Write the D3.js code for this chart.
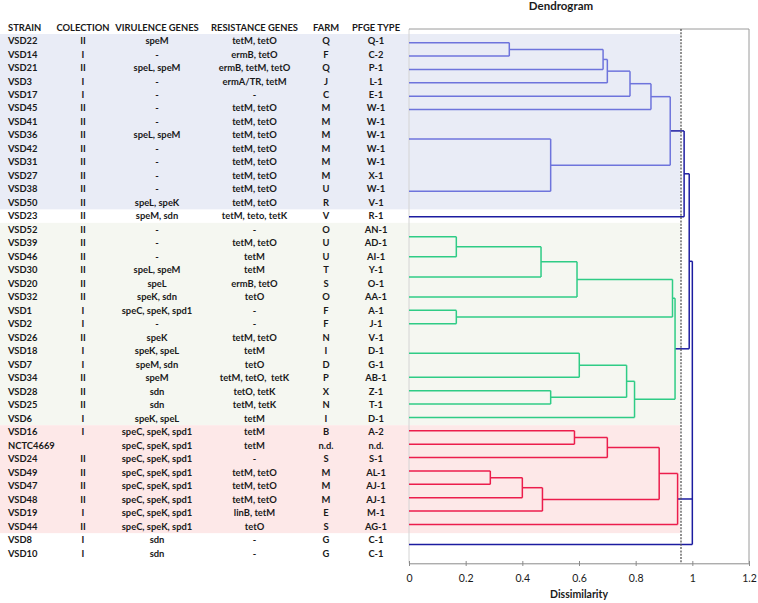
<!DOCTYPE html>
<html>
<head>
<meta charset="utf-8">
<script src="https://cdn.jsdelivr.net/npm/d3@7"></script>
<style>
  body { margin: 0; background: #fff; }
  svg text { font-family: Lato, "Open Sans", sans-serif; fill: #1a1a1a; white-space: pre; }
  .hdr { font-weight: 700; font-size: 9.4px; }
  .cell { font-weight: 700; font-size: 9.4px; }
  .title { font-weight: 700; font-size: 11.5px; }
  .tick text { font-size: 10.5px; font-weight: 400; }
</style>
</head>
<body>
<div class="chart"></div>
<script>
// table data
const columns = ['STRAIN', 'COLECTION', 'VIRULENCE GENES', 'RESISTANCE GENES', 'FARM', 'PFGE TYPE'];
const strains = ['VSD22','VSD14','VSD21','VSD3','VSD17','VSD45','VSD41','VSD36','VSD42','VSD31','VSD27','VSD38','VSD50',
  'VSD23','VSD52','VSD39','VSD46','VSD30','VSD20','VSD32','VSD1','VSD2','VSD26','VSD18','VSD7','VSD34','VSD28','VSD25','VSD6',
  'VSD16','NCTC4669','VSD24','VSD49','VSD47','VSD48','VSD19','VSD44','VSD8','VSD10'];
const collections = ['II','I','II','I','I','II','II','II','II','II','II','II','II',
  'II','II','II','II','II','II','II','I','I','II','I','I','II','II','II','I',
  'I','','II','II','II','II','I','II','I','I'];
const virulence = ['speM','-','speL, speM','-','-','-','-','speL, speM','-','-','-','-','speL, speK',
  'speM, sdn','-','-','-','speL, speM','speL','speK, sdn','speC, speK, spd1','-','speK','speK, speL','speM, sdn','speM','sdn','sdn','speK, speL',
  'speC, speK, spd1','speC, speK, spd1','speC, speK, spd1','speC, speK, spd1','speC, speK, spd1','speC, speK, spd1','speC, speK, spd1','speC, speK, spd1','sdn','sdn'];
const resistance = ['tetM, tetO','ermB, tetO','ermB, tetM, tetO','ermA/TR, tetM','-','tetM, tetO','tetM, tetO','tetM, tetO','tetM, tetO','tetM, tetO','tetM, tetO','tetM, tetO','tetM, tetO',
  'tetM, teto, tetK','-','tetM, tetO','tetM','tetM','ermB, tetO','tetO','-','-','tetM, tetO','tetM','tetO','tetM, tetO,  tetK','tetO, tetK','tetM, tetK','tetM',
  'tetM','tetM','-','tetM, tetO','tetM, tetO','tetM, tetO','linB, tetM','tetO','-','-'];
const farms = ['Q','F','Q','J','C','M','M','M','M','M','M','U','R',
  'V','O','U','U','T','S','O','F','F','N','I','D','P','X','N','I',
  'B','n.d.','S','M','M','M','E','S','G','G'];
const pfge = ['Q-1','C-2','P-1','L-1','E-1','W-1','W-1','W-1','W-1','W-1','X-1','W-1','V-1',
  'R-1','AN-1','AD-1','AI-1','Y-1','O-1','AA-1','A-1','J-1','V-1','D-1','G-1','AB-1','Z-1','T-1','D-1',
  'A-2','n.d.','S-1','AL-1','AJ-1','AJ-1','M-1','AG-1','C-1','C-1'];

// cluster bands (first and last strain of each)
const bandFirst = ['VSD22', 'VSD52', 'VSD16'];
const bandLast = ['VSD50', 'VSD6', 'VSD44'];

// dendrogram: leaf order positions, leaf groups, merges (children ids) and heights
const leafPos = [0, 1, 2, 3, 4, 5, 7.2, 11.1, 13,
  14.5, 16, 17.5, 19, 20, 21, 23.2, 25, 26, 27, 28,
  29, 30, 31, 32, 33, 34, 35, 36, 37.5];
const leafGroup = [0,0,0,0,0,0,0,0,3, 1,1,1,1,1,1,1,1,1,1,1, 2,2,2,2,2,2,2,2,3];
// node ids: leaves 0..28, merges from 29 on
const mergeChildren = [
  [0,1],[29,2],[30,3],[31,4],[32,5],[6,7],[33,34],[35,8],
  [9,10],[37,11],[38,12],[13,14],[39,40],[15,16],[17,18],[42,43],[44,19],[41,45],[36,46],
  [20,21],[48,22],[23,24],[50,25],[51,26],[49,52],[53,27],
  [47,54,28]
];
const mergeHeight = [0.354,0.685,0.70,0.78,0.854,0.50,0.922,0.971,
  0.167,0.466,0.593,0.167,0.930,0.601,0.50,0.768,0.796,0.939,0.989,
  0.584,0.70,0.287,0.40,0.471,0.883,0.948,
  1.0];
const cutoff = 0.96;
const xTicks = [0, 0.2, 0.4, 0.6, 0.8, 1, 1.2];

const W = 758, H = 603;
const svg = d3.select('.chart').append('svg')
  .attr('width', W).attr('height', H);

const groupColor = ['#6e74dc', '#2fcc86', '#ec1d4c'];
const bandColor = ['#e9ecf6', '#f5f7f1', '#fde8e8'];
const navy = '#1c1ca0';

// scales
const x = d3.scaleLinear().domain([0, 1.2]).range([409, 749]);
const row = d3.scaleBand().domain(strains).range([34, 34 + 39 * 13.49]);
const yLeaf = d3.scaleLinear().domain([0, 36]).range([42.7, 524.5]);
const plotTop = 29, plotBottom = 563.3;

// bands
svg.append('g').selectAll('rect')
  .data(bandFirst)
  .enter().append('rect')
    .attr('x', 0)
    .attr('y', d => row(d))
    .attr('width', x(cutoff) - 1)
    .attr('height', (d, i) => row(bandLast[i]) + row.bandwidth() - row(d))
    .attr('fill', (d, i) => bandColor[i]);

// table
const colX = [8, 83, 157, 254.5, 326, 376];
svg.append('g').selectAll('text')
  .data(columns)
  .enter().append('text')
    .attr('class', 'hdr')
    .attr('x', (d, i) => colX[i])
    .attr('y', 30.5)
    .attr('text-anchor', (d, i) => i === 0 ? 'start' : 'middle')
    .text(d => d);

const colData = [strains, collections, virulence, resistance, farms, pfge];
colData.forEach((arr, c) => {
  svg.append('g').selectAll('text')
    .data(arr)
    .enter().append('text')
      .attr('class', 'cell')
      .attr('x', colX[c])
      .attr('y', (d, i) => row(strains[i]) + row.bandwidth() / 2 + 3.3)
      .attr('text-anchor', c === 0 ? 'start' : 'middle')
      .text(d => d);
});

// title
svg.append('text')
  .attr('class', 'title')
  .attr('x', 561).attr('y', 10)
  .attr('text-anchor', 'middle')
  .text('Dendrogram');

// frame
const frame = svg.append('g').attr('fill', 'none');
frame.append('line')
  .attr('x1', x(0)).attr('x2', x(0)).attr('y1', plotTop).attr('y2', plotBottom)
  .attr('stroke', '#d4d4d4');
frame.append('polyline')
  .attr('points', `${x(0)},${plotTop} ${x(1.2)},${plotTop} ${x(1.2)},${plotBottom}`)
  .attr('stroke', '#9a9a9a');

// build hierarchy from the merge table
const nLeaves = leafPos.length;
function build(id) {
  if (id < nLeaves) return { id: id, h: 0, pos: leafPos[id], group: leafGroup[id] };
  const m = id - nLeaves;
  return { id: id, h: mergeHeight[m], children: mergeChildren[m].map(build) };
}
const root = d3.hierarchy(build(nLeaves + mergeChildren.length - 1));
root.eachAfter(n => {
  if (!n.children) { n.yy = yLeaf(n.data.pos); n.grp = n.data.group; return; }
  const ys = n.children.map(c => c.yy);
  n.yMin = d3.min(ys); n.yMax = d3.max(ys);
  n.yy = (n.yMin + n.yMax) / 2;
  n.grp = n.children[0].grp;
});
const colorOf = n => n.data.h > cutoff ? navy : groupColor[n.grp];

const dendro = svg.append('g').attr('fill', 'none').attr('stroke-width', 1.5);
const internal = root.descendants().filter(n => n.children);
// vertical joins with horizontal links from each child
internal.forEach(n => {
  const px = x(n.data.h);
  const col = colorOf(n);
  dendro.append('line')
    .attr('x1', px).attr('x2', px).attr('y1', n.yMin).attr('y2', n.yMax)
    .attr('stroke', col);
  n.children.forEach(c => {
    dendro.append('line')
      .attr('x1', x(c.data.h)).attr('x2', px)
      .attr('y1', c.yy).attr('y2', c.yy)
      .attr('stroke', col);
  });
});

// cutoff line
svg.append('line')
  .attr('x1', x(cutoff)).attr('x2', x(cutoff))
  .attr('y1', plotTop).attr('y2', plotBottom)
  .attr('stroke', '#555').attr('stroke-width', 1.3)
  .attr('stroke-dasharray', '2,1.3');

// x axis
const xAxis = svg.append('g')
  .attr('transform', `translate(0,${plotBottom})`)
  .call(d3.axisBottom(x).tickValues(xTicks).tickFormat(d3.format('')).tickSize(2.7).tickSizeOuter(0));
xAxis.select('.domain').attr('stroke', '#8a8a8a');
xAxis.selectAll('.tick line').attr('stroke', '#8a8a8a').attr('y1', -2.3);
xAxis.selectAll('.tick text').attr('dy', '1.25em').attr('fill', '#1a1a1a');

svg.append('text')
  .attr('class', 'title')
  .style('font-size', '10.5px')
  .attr('x', (x(0) + x(1.2)) / 2).attr('y', 598)
  .attr('text-anchor', 'middle')
  .text('Dissimilarity');
</script>
</body>
</html>
